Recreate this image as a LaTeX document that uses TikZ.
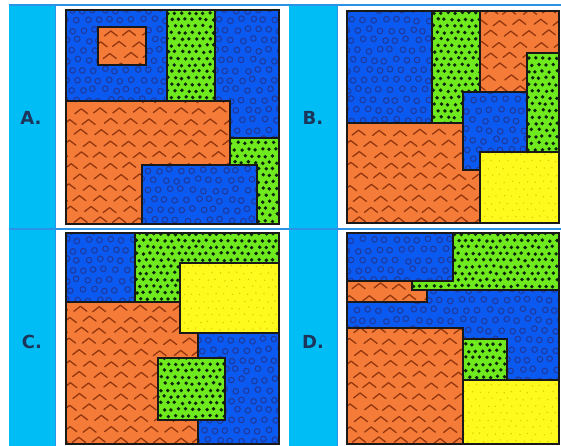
\documentclass[tikz,border=0pt]{standalone}
\usepackage{fontspec}
\setmainfont{DejaVu Sans}
\definecolor{cyanL}{HTML}{00BEF5}
\definecolor{gridB}{HTML}{2A93E6}
\definecolor{pBlue}{HTML}{0A5AF2}
\definecolor{pBlueD}{HTML}{1F3A9E}
\definecolor{pGreen}{HTML}{6FEA1E}
\definecolor{pGreenD}{HTML}{0B260B}
\definecolor{pOrange}{HTML}{F47C38}
\definecolor{pOrangeD}{HTML}{93360F}
\definecolor{pYellow}{HTML}{FFFA1E}
\definecolor{pYellowD}{HTML}{DCCE00}
\definecolor{lblC}{HTML}{1C355A}
\tikzset{
  edge/.style={draw=black!90, line width=1.7pt},
  bcirc/.style={draw=pBlueD, line width=1.1pt},
  gdot/.style={fill=pGreenD},
  ychev/.style={draw=pOrangeD, line width=1.3pt, line cap=round, line join=round},
  ydot/.style={fill=pYellowD},
  lbl/.style={font=\bfseries\fontsize{18}{21}\selectfont, text=lblC},
  gridline/.style={draw=gridB, line width=2pt}
}
\newcommand\patB[4]{%
  \pgfmathtruncatemacro\ia{#1/11-1}\pgfmathtruncatemacro\ib{#3/11+1}%
  \pgfmathtruncatemacro\ja{#2/10-1}\pgfmathtruncatemacro\jb{#4/10+1}%
  \foreach \j in {\ja,...,\jb}{\foreach \i in {\ia,...,\ib}{%
    \pgfmathsetmacro\xx{\i*11+mod(\j,2)*5.5+rand*1.5}%
    \pgfmathsetmacro\yy{\j*10+rand*1.5}%
    \draw[bcirc] (\xx,\yy) circle[radius=2.8pt];}}}
\newcommand\patG[4]{%
  \pgfmathtruncatemacro\ia{#1/7-1}\pgfmathtruncatemacro\ib{#3/7+1}%
  \pgfmathtruncatemacro\ja{#2/6.5-1}\pgfmathtruncatemacro\jb{#4/6.5+1}%
  \foreach \j in {\ja,...,\jb}{\foreach \i in {\ia,...,\ib}{%
    \pgfmathsetmacro\xx{\i*7+mod(\j,2)*3.5+rand*0.8}%
    \pgfmathsetmacro\yy{\j*6.5+rand*0.8}%
    \fill[gdot] (\xx,\yy) circle[radius=1.9pt];}}}
\newcommand\patO[4]{%
  \pgfmathtruncatemacro\ia{#1/20-1}\pgfmathtruncatemacro\ib{#3/20+1}%
  \pgfmathtruncatemacro\ja{#2/11-1}\pgfmathtruncatemacro\jb{#4/11+1}%
  \foreach \j in {\ja,...,\jb}{\foreach \i in {\ia,...,\ib}{%
    \pgfmathsetmacro\xx{\i*20+mod(\j,2)*10+rand*1.5}%
    \pgfmathsetmacro\yy{\j*11+rand*1}%
    \draw[ychev] (\xx-6.5,\yy+2.8) -- (\xx,\yy-2.2) -- (\xx+6.5,\yy+2.8);}}}
\newcommand\patY[4]{%
  \pgfmathtruncatemacro\ia{#1/8-1}\pgfmathtruncatemacro\ib{#3/8+1}%
  \pgfmathtruncatemacro\ja{#2/7-1}\pgfmathtruncatemacro\jb{#4/7+1}%
  \foreach \j in {\ja,...,\jb}{\foreach \i in {\ia,...,\ib}{%
    \pgfmathsetmacro\xx{\i*8+mod(\j,2)*4+rand}%
    \pgfmathsetmacro\yy{\j*7+rand}%
    \fill[ydot] (\xx,\yy) circle[radius=0.8pt];}}}
\newcommand\reg[6]{%
  \begin{scope}
    \clip (#3,#4) rectangle (#5,#6);
    \fill[#1] (#3,#4) rectangle (#5,#6);
    \csname pat#2\endcsname{#3}{#4}{#5}{#6}%
  \end{scope}
  \draw[edge] (#3,#4) rectangle (#5,#6);}
\begin{document}
\begin{tikzpicture}[x=1pt,y=-1pt]
\pgfmathsetseed{7}
\useasboundingbox (0,0) rectangle (561,446);
\fill[white] (0,0) rectangle (561,446);
% table
\fill[cyanL] (9,4.5) rectangle (55.5,446);
\fill[cyanL] (288.5,4.5) rectangle (337,446);
\draw[gridline] (9,5) -- (561,5);
\draw[gridline] (9,229) -- (561,229);
\draw[draw=gridB, line width=0.8pt] (55.5,5) -- (55.5,446);
\draw[draw=gridB, line width=0.8pt] (337,5) -- (337,446);
% labels
\node[lbl] (labA) at (31,118) {A.};
\node[lbl] (labB) at (313,118) {B.};
\node[lbl] (labC) at (32,342) {C.};
\node[lbl] (labD) at (313,342) {D.};
% panel A
\reg{pBlue}{B}{65.7}{10}{279.3}{224}
\reg{pGreen}{G}{166.7}{10}{215}{101}
\reg{pOrange}{O}{97.7}{27.3}{145.7}{65}
\reg{pGreen}{G}{230}{138.3}{279.3}{224}
\reg{pOrange}{O}{65.7}{101}{230}{224}
\reg{pBlue}{B}{141.7}{165}{256.7}{224}
% panel B
\reg{pOrange}{O}{346.7}{10.7}{559.3}{223.3}
\reg{pBlue}{B}{346.7}{10.7}{431.7}{122.7}
\reg{pGreen}{G}{431.7}{10.7}{480}{122.7}
\reg{pGreen}{G}{526.7}{53.3}{559.3}{151.7}
\reg{pBlue}{B}{463.3}{91.7}{526.7}{170}
\reg{pYellow}{Y}{480}{151.7}{559.3}{223.3}
% panel C
\reg{pBlue}{B}{65.7}{232.7}{279.3}{444}
\reg{pGreen}{G}{135}{232.7}{279.3}{301.7}
\reg{pOrange}{O}{65.7}{301.7}{198.3}{444}
\reg{pYellow}{Y}{180}{263.3}{279.3}{333.3}
\reg{pGreen}{G}{158.3}{358.3}{225}{420}
% panel D
\reg{pBlue}{B}{346.7}{233.3}{559.3}{444}
\reg{pOrange}{O}{346.7}{280.7}{426.7}{301.7}
\reg{pGreen}{G}{411.7}{233.3}{559.3}{290}
\reg{pBlue}{B}{346.7}{233.3}{453.3}{280.7}
\reg{pOrange}{O}{346.7}{328.3}{462.7}{444}
\reg{pGreen}{G}{462.7}{339.3}{506.7}{380}
\reg{pYellow}{Y}{462.7}{380}{559.3}{444}
\end{tikzpicture}
\end{document}
